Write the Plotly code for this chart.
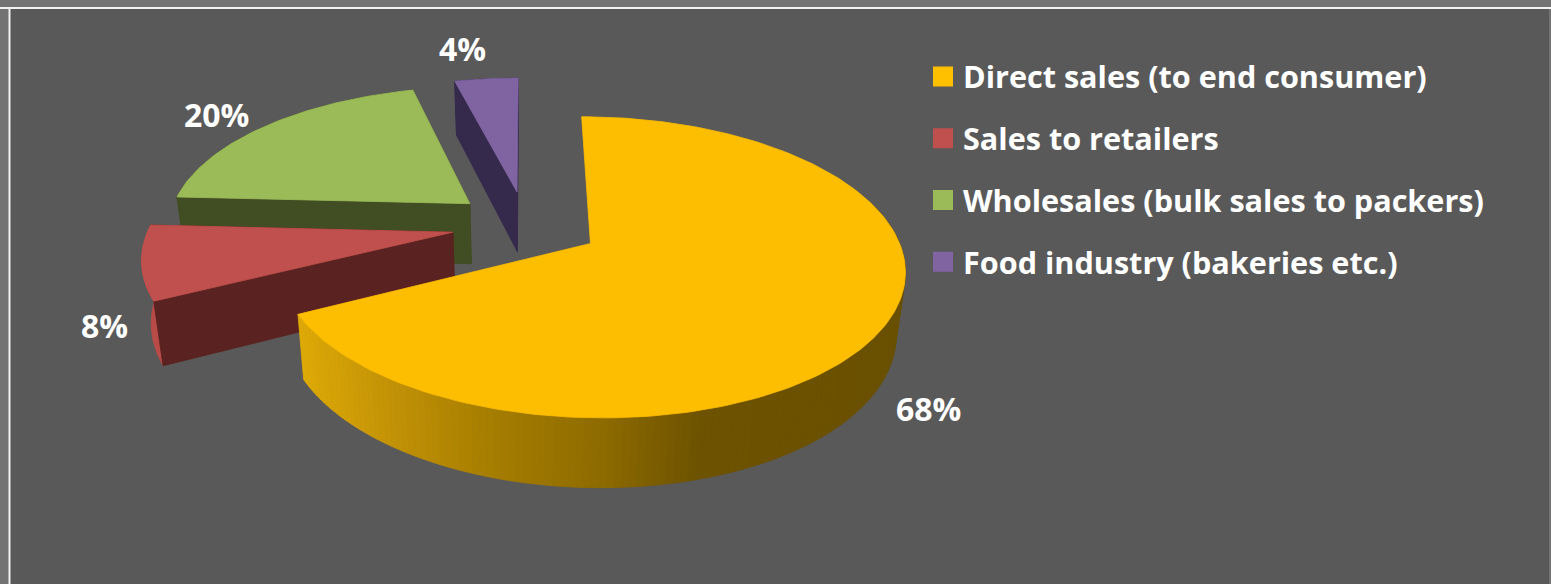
import numpy as np
import plotly.graph_objects as go

# ---- data ----
CATEGORIES = ["Direct sales (to end consumer)", "Sales to retailers",
              "Wholesales (bulk sales to packers)", "Food industry (bakeries etc.)"]
SHARES = [67.6, 8.2, 20.2, 4.0]   # labels show them rounded
TOP_COLORS = ["#FDBD00", "#C0504D", "#9BBB59", "#8064A2"]
LEGEND_COLORS = ["#FFC000", "#C0504D", "#9BBB59", "#8064A2"]
CUT_COLORS = ["#7A5C00", "#5A2220", "#414D22", "#35294C"]
RIM_COLORS = [None, "#B84B48", "#414D22", "#35294C"]
DRAW_ORDER = [3, 2, 1, 0]

# ---- projection / style constants ----
W, H = 1551, 584
CX, CY = 526, 225        # pie centre on screen
RX, RY = 303, 141        # disc radii
PERSP = 0.155            # perspective strength
EXPLODE = 0.245
DEPTH = 61
BOTTOM_SCALE = 0.975
START_DEG = 0.0
LABEL_POS = [(928, 408), (104, 325), (216, 114), (462, 48)]
FONT = "Open Sans"
LABEL_SIZE = 32
LEGEND_SIZE = 30.6


def project(X, Y, bottom=False):
    s = 1 / (1 + PERSP * Y)
    sx = RX * X * s
    sy = -RY * Y * s
    if bottom:
        return CX + sx * BOTTOM_SCALE, CY + sy + DEPTH * s ** 0.7
    return CX + sx, CY + sy


def rim_color(x):
    stops_x = [300, 400, 500, 600, 700, 910]
    stops_r = [222, 192, 164, 143, 110, 106]
    stops_g = [170, 144, 124, 108, 83, 80]
    stops_b = [6, 6, 0, 0, 0, 0]
    return "rgb(%d,%d,%d)" % (np.interp(x, stops_x, stops_r),
                              np.interp(x, stops_x, stops_g),
                              np.interp(x, stops_x, stops_b))


fig = go.Figure()


def poly(xs, ys, color):
    fig.add_trace(go.Scatter(x=list(xs), y=list(ys), mode="lines", fill="toself",
                             fillcolor=color, line=dict(color=color, width=0.8),
                             hoverinfo="skip", showlegend=False))


edges = START_DEG + np.concatenate([[0], np.cumsum(SHARES)]) * 360 / sum(SHARES)

for i in DRAW_ORDER:
    a0, a1 = np.radians(edges[i]), np.radians(edges[i + 1])
    am = (a0 + a1) / 2
    ox, oy = EXPLODE * np.sin(am), EXPLODE * np.cos(am)
    t = np.linspace(a0, a1, max(12, int(SHARES[i] * 3)))
    X, Y = ox + np.sin(t), oy + np.cos(t)

    # outer rim, split in facets for the shaded slice
    tx, ty = project(X, Y)
    bx, by = project(X, Y, True)
    if RIM_COLORS[i] is None:
        for j in range(len(t) - 1):
            if Y[j] > oy + 0.3:
                continue
            poly([tx[j], tx[j + 1], bx[j + 1], bx[j], tx[j]],
                 [ty[j], ty[j + 1], by[j + 1], by[j], ty[j]],
                 rim_color((tx[j] + tx[j + 1]) / 2))
    else:
        poly(np.r_[tx, bx[::-1], tx[0]], np.r_[ty, by[::-1], ty[0]], RIM_COLORS[i])

    # flat cut faces from the apex to each end of the arc
    if i != 0:
        for k in (-1, 0):
            px = np.array([ox, X[k]])
            py = np.array([oy, Y[k]])
            ex, ey = project(px, py)
            fx, fy = project(px, py, True)
            poly([ex[0], ex[1], fx[1], fx[0], ex[0]],
                 [ey[0], ey[1], fy[1], fy[0], ey[0]], CUT_COLORS[i])

    # top surface
    sx, sy = project(np.r_[ox, X, ox], np.r_[oy, Y, oy])
    poly(sx, sy, TOP_COLORS[i])

# legend entries
for name, color in zip(CATEGORIES, LEGEND_COLORS):
    fig.add_trace(go.Scatter(x=[None], y=[None], mode="markers", name=name, legendgroup=name,
                             marker=dict(symbol="square", size=16, color=color,
                                         line=dict(color=color, width=4)),
                             hoverinfo="skip"))

annotations = [
    dict(x=p[0], y=p[1], text=f"{round(v)}%", showarrow=False, xref="x", yref="y",
         font=dict(family=FONT, size=LABEL_SIZE, color="white", weight=700))
    for v, p in zip(SHARES, LABEL_POS)
]

fig.update_layout(
    width=W, height=H, margin=dict(l=0, r=0, t=0, b=0),
    paper_bgcolor="#737373", plot_bgcolor="rgba(0,0,0,0)",
    xaxis=dict(range=[0, W], visible=False, fixedrange=True),
    yaxis=dict(range=[H, 0], visible=False, fixedrange=True),
    shapes=[
        dict(type="rect", xref="x", yref="y", x0=9, y0=8, x1=1549, y1=600,
             fillcolor="#595959", line=dict(width=0), layer="below"),
        dict(type="line", xref="x", yref="y", x0=0, y0=8, x1=W, y1=8,
             line=dict(color="#F2F2F2", width=2), layer="below"),
        dict(type="line", xref="x", yref="y", x0=9.5, y0=8, x1=9.5, y1=600,
             line=dict(color="#F2F2F2", width=2), layer="below"),
    ],
    annotations=annotations,
    legend=dict(x=923 / W, y=1 - 50 / H, xanchor="left", yanchor="top",
                bgcolor="rgba(0,0,0,0)", tracegroupgap=19, itemsizing="trace",
                font=dict(family=FONT, size=LEGEND_SIZE, color="white", weight=700)),
    showlegend=True,
)

fig.write_html("out.html", config={"displayModeBar": False},
               post_script="document.body.style.margin='0';document.body.style.overflow='hidden';")
